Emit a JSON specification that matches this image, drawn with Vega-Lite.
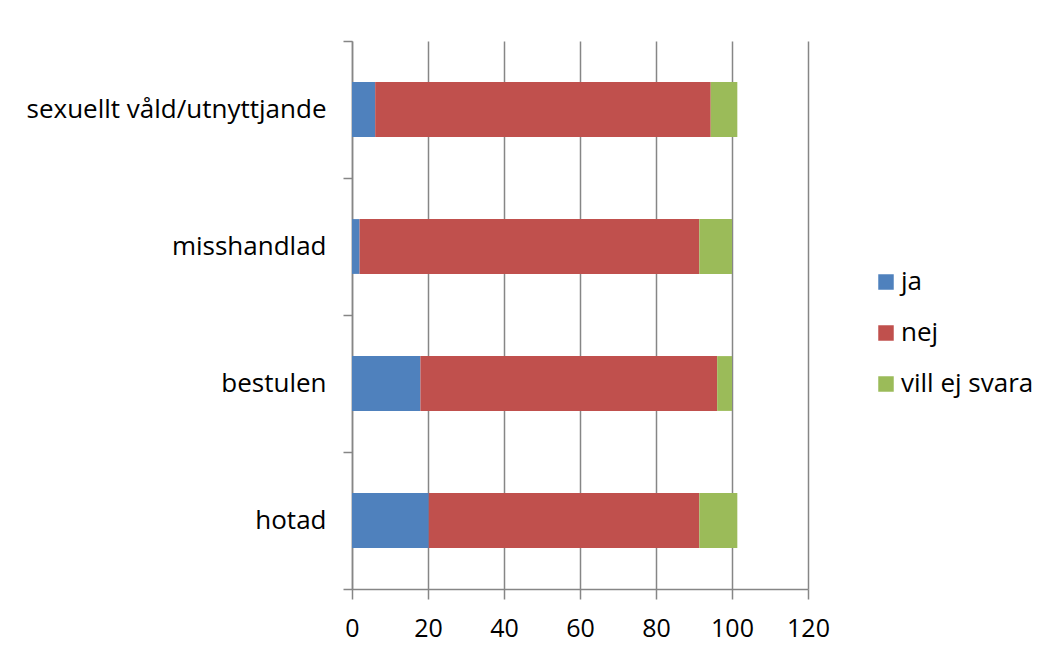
{
  "$schema": "https://vega.github.io/schema/vega-lite/v6.json",
  "width": 456,
  "height": 548,
  "autosize": "none",
  "padding": {"left": 352, "top": 41, "right": 244, "bottom": 72},
  "background": "white",
  "config": {
    "font": "Open Sans",
    "view": {"stroke": null},
    "axis": {"labelFont": "Open Sans", "labelColor": "#000000", "domainColor": "#868686", "tickColor": "#868686", "gridColor": "#868686"}
  },
  "data": {
    "values": [
      {"kategori": "sexuellt våld/utnyttjande", "svar": "ja", "ord": 1, "procent": 6.1},
      {"kategori": "sexuellt våld/utnyttjande", "svar": "nej", "ord": 2, "procent": 88.3},
      {"kategori": "sexuellt våld/utnyttjande", "svar": "vill ej svara", "ord": 3, "procent": 7.0},
      {"kategori": "misshandlad", "svar": "ja", "ord": 1, "procent": 2.0},
      {"kategori": "misshandlad", "svar": "nej", "ord": 2, "procent": 89.4},
      {"kategori": "misshandlad", "svar": "vill ej svara", "ord": 3, "procent": 8.6},
      {"kategori": "bestulen", "svar": "ja", "ord": 1, "procent": 18.0},
      {"kategori": "bestulen", "svar": "nej", "ord": 2, "procent": 78.1},
      {"kategori": "bestulen", "svar": "vill ej svara", "ord": 3, "procent": 3.9},
      {"kategori": "hotad", "svar": "ja", "ord": 1, "procent": 20.2},
      {"kategori": "hotad", "svar": "nej", "ord": 2, "procent": 71.2},
      {"kategori": "hotad", "svar": "vill ej svara", "ord": 3, "procent": 10.0}
    ]
  },
  "mark": {"type": "bar", "height": {"band": 0.4}},
  "encoding": {
    "y": {
      "field": "kategori",
      "type": "nominal",
      "sort": ["sexuellt våld/utnyttjande", "misshandlad", "bestulen", "hotad"],
      "scale": {"paddingInner": 0, "paddingOuter": 0},
      "axis": {
        "title": null,
        "tickBand": "extent",
        "tickSize": 9,
        "labelPadding": 17,
        "labelFontSize": 26,
        "labelLimit": 500,
        "domainWidth": 1.5,
        "tickWidth": 1.5
      }
    },
    "x": {
      "field": "procent",
      "type": "quantitative",
      "stack": "zero",
      "scale": {"domain": [0, 120], "nice": false},
      "axis": {
        "title": null,
        "values": [0, 20, 40, 60, 80, 100, 120],
        "grid": true,
        "gridWidth": 1.5,
        "tickSize": 10,
        "tickWidth": 1.5,
        "domainWidth": 1.5,
        "labelPadding": 17,
        "labelFontSize": 25,
        "labelFlush": false
      }
    },
    "color": {
      "field": "svar",
      "type": "nominal",
      "scale": {"domain": ["ja", "nej", "vill ej svara"], "range": ["#4F81BD", "#C0504D", "#9BBB59"]},
      "legend": {
        "title": null,
        "orient": "none",
        "legendX": 521,
        "legendY": 228,
        "padding": 0,
        "symbolType": "square",
        "symbolSize": 240,
        "symbolStrokeWidth": 0,
        "symbolOpacity": 1,
        "labelFontSize": 26,
        "labelOffset": 2,
        "rowPadding": 25,
        "labelFont": "Open Sans"
      }
    },
    "order": {"field": "ord", "type": "quantitative"}
  }
}
